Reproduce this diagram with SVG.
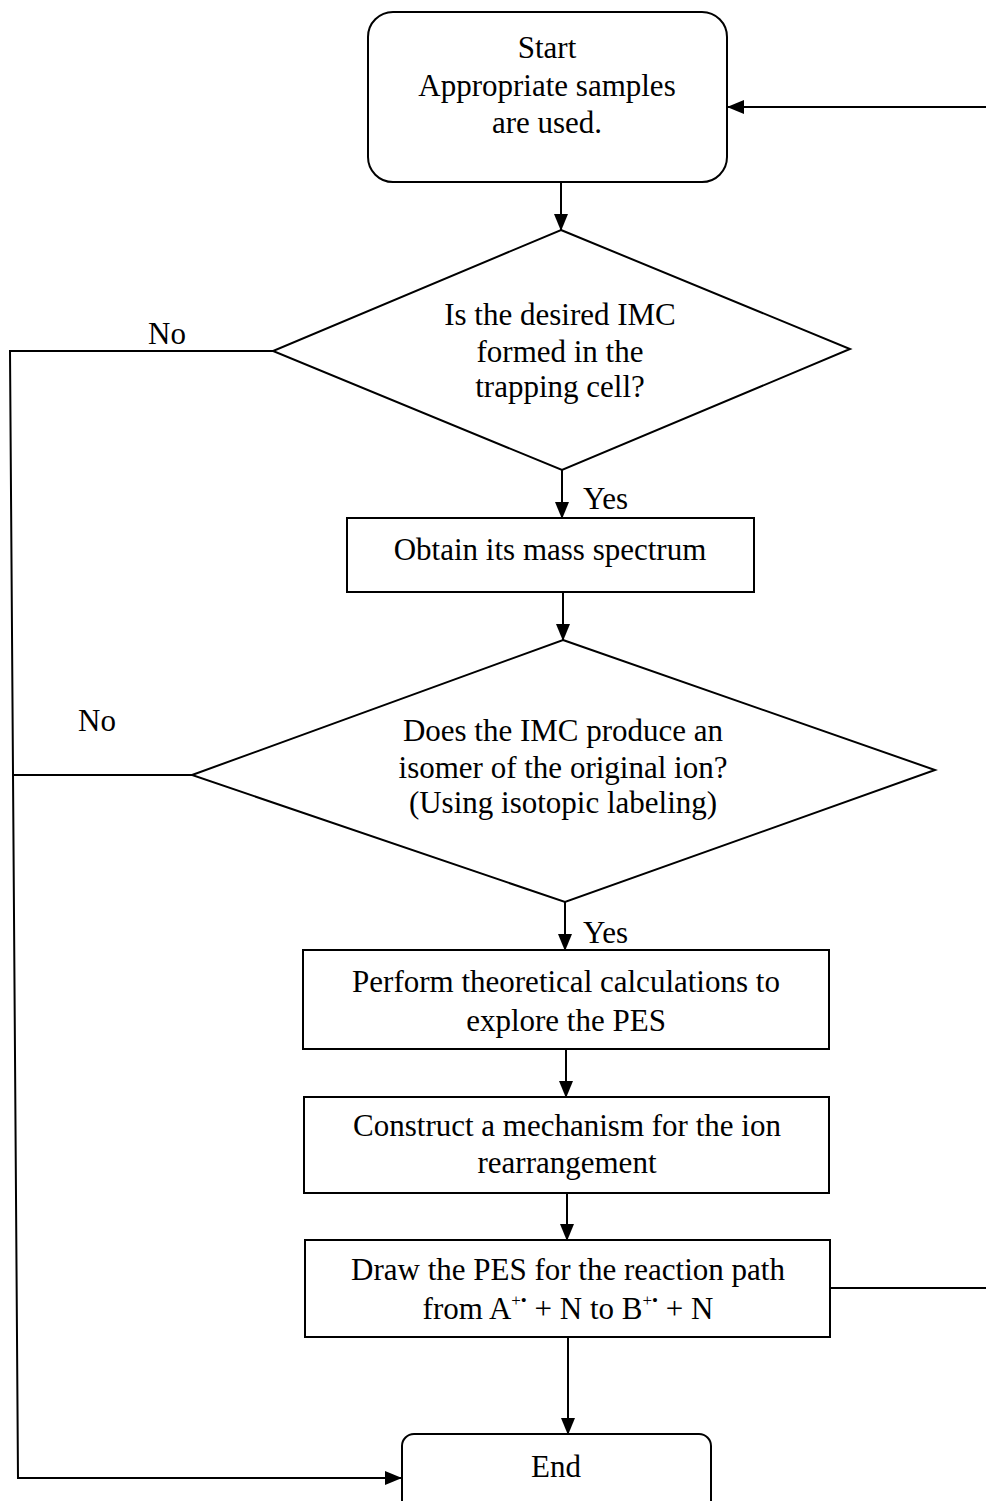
<svg xmlns="http://www.w3.org/2000/svg" width="986" height="1501" viewBox="0 0 986 1501">
<style>
.s{fill:#fff;stroke:#000;stroke-width:2}
.t{font-family:"Liberation Serif","Times New Roman",serif;font-size:31px;fill:#000;text-anchor:middle}
.l{font-family:"Liberation Serif","Times New Roman",serif;font-size:31px;fill:#000}
.c{fill:none;stroke:#000;stroke-width:2}
</style>
<defs>
<marker id="a" markerWidth="17" markerHeight="14" refX="16" refY="7" orient="auto" markerUnits="userSpaceOnUse">
<path d="M0,0 L17,7 L0,14 Z" fill="#000"/>
</marker>
</defs>
<rect width="986" height="1501" fill="#fff"/>
<g id="connectors">
<path class="c" d="M986,107 L728,107" marker-end="url(#a)"/>
<path class="c" d="M561,182 L561,230" marker-end="url(#a)"/>
<path class="c" d="M562,470 L562,518" marker-end="url(#a)"/>
<path class="c" d="M563,592 L563,640" marker-end="url(#a)"/>
<path class="c" d="M565,902 L565,950" marker-end="url(#a)"/>
<path class="c" d="M566,1049 L566,1097" marker-end="url(#a)"/>
<path class="c" d="M567,1193 L567,1240" marker-end="url(#a)"/>
<path class="c" d="M568,1337 L568,1434" marker-end="url(#a)"/>
<path class="c" d="M830,1288 L986,1288"/>
<path class="c" d="M273,351 L10,351 L18,1478 L401,1478" marker-end="url(#a)"/>
<path class="c" d="M192,775 L12,775"/>
<text class="l" x="148" y="344">No</text>
<text class="l" x="78" y="731">No</text>
<text class="l" x="583" y="509">Yes</text>
<text class="l" x="583" y="943">Yes</text>
</g>
<g id="start">
<rect class="s" x="368" y="12" width="359" height="170" rx="25"/>
<text class="t" x="547" y="58">Start</text>
<text class="t" x="547" y="96">Appropriate samples</text>
<text class="t" x="547" y="133">are used.</text>
</g>
<g id="decision1">
<polygon class="s" points="561,230 850,349 562,470 273,351"/>
<text class="t" x="560" y="325">Is the desired IMC</text>
<text class="t" x="560" y="362">formed in the</text>
<text class="t" x="560" y="397">trapping cell?</text>
</g>
<g id="spectrum">
<rect class="s" x="347" y="518" width="407" height="74"/>
<text class="t" x="550" y="560">Obtain its mass spectrum</text>
</g>
<g id="decision2">
<polygon class="s" points="563,640 935,770 565,902 192,775"/>
<text class="t" x="563" y="741">Does the IMC produce an</text>
<text class="t" x="563" y="778">isomer of the original ion?</text>
<text class="t" x="563" y="813">(Using isotopic labeling)</text>
</g>
<g id="theory">
<rect class="s" x="303" y="950" width="526" height="99"/>
<text class="t" x="566" y="992">Perform theoretical calculations to</text>
<text class="t" x="566" y="1031">explore the PES</text>
</g>
<g id="mechanism">
<rect class="s" x="304" y="1097" width="525" height="96"/>
<text class="t" x="567" y="1136">Construct a mechanism for the ion</text>
<text class="t" x="567" y="1173">rearrangement</text>
</g>
<g id="draw">
<rect class="s" x="305" y="1240" width="525" height="97"/>
<text class="t" x="568" y="1280">Draw the PES for the reaction path</text>
<text class="t" x="568" y="1319">from A<tspan font-size="17" dy="-13">+•</tspan><tspan dy="13"> + N to B</tspan><tspan font-size="17" dy="-13">+•</tspan><tspan dy="13"> + N</tspan></text>
</g>
<g id="end">
<rect class="s" x="402" y="1434" width="309" height="90" rx="12"/>
<text class="t" x="556" y="1477">End</text>
</g>
</svg>
